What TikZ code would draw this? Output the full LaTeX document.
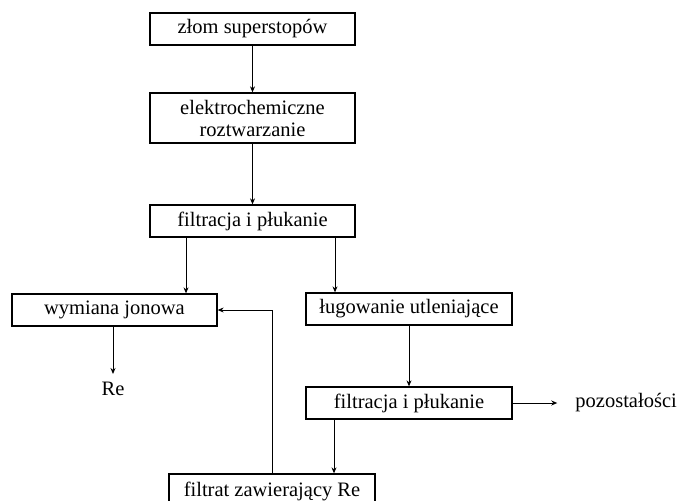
\documentclass[tikz,border=0pt]{standalone}
\usepackage{fontspec}
\setmainfont{Liberation Serif}
\usetikzlibrary{arrows.meta}
\begin{document}
\begin{tikzpicture}[x=1pt,y=-1pt,
  box/.style={draw=black, line width=1.3pt, rectangle, minimum width=205pt,
    minimum height=32pt, inner sep=0pt, align=center,
    font=\fontsize{20.5}{22}\selectfont},
  lbl/.style={inner sep=0pt, font=\fontsize{20.5}{22}\selectfont},
  arr/.style={draw=black, line width=0.9pt, -{Stealth[length=6pt,width=5pt]}}]
\useasboundingbox (0,0) rectangle (679,500);
\clip (0,0) rectangle (679,500);
% process steps
\node[box] (n1) at (252.5,29) {złom superstopów};
\node[box, minimum height=50pt] (n2) at (252.5,118) {elektrochemiczne\\roztwarzanie};
\node[box] (n3) at (252.5,221) {filtracja i płukanie};
\node[box] (n4) at (114.5,310) {wymiana jonowa};
\node[box, minimum width=206pt] (n5) at (409,309) {ługowanie utleniające};
\node[box, minimum width=206pt] (n6) at (409,403) {filtracja i płukanie};
\node[box, minimum width=206pt, minimum height=32pt, text depth=0pt] (n7) at (272,490)
  {\raisebox{2pt}{filtrat zawierający Re}};
% outputs
\node[lbl] (re) at (113,389) {Re};
\node[lbl, anchor=east] (poz) at (677,403) {pozostałości};
% connectors
\draw[arr] (n1.south) -- (n2.north);
\draw[arr] (n2.south) -- (n3.north);
\draw[arr] ([xshift=-66.5pt]n3.south) -- ([xshift=-66.5pt]n3.south |- n4.north);
\draw[arr] ([xshift=82.5pt]n3.south) -- ([xshift=82.5pt]n3.south |- n5.north);
\draw[arr] (re.north |- n4.south) -- ([yshift=8pt]re.north);
\draw[arr] (n5.south) -- (n6.north);
\draw[arr] (n6.east) -- ([xshift=-18pt]poz.west);
\draw[arr] ([xshift=-75pt]n6.south) -- ([xshift=-75pt]n6.south |- n7.north);
\draw[arr] (n7.north) |- (n4.east);
\end{tikzpicture}
\end{document}
